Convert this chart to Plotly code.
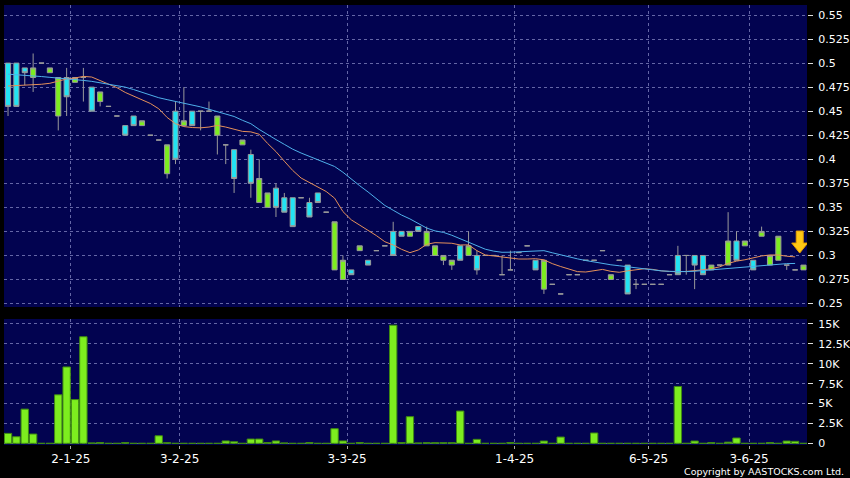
import plotly.graph_objects as go

# ---------------- data ----------------
opens = [0.50, 0.50, 0.495, 0.485, 0.50, 0.49, 0.445, 0.485, 0.48, 0.485,
         0.475, 0.46, 0.455, 0.445, 0.435, 0.445, 0.435, 0.425, 0.42, 0.385,
         0.45, 0.435, 0.45, 0.45, 0.45, 0.425, 0.415, 0.41, 0.415, 0.405,
         0.355, 0.35, 0.37, 0.36, 0.36, 0.36, 0.355, 0.365, 0.345, 0.285,
         0.275, 0.285, 0.305, 0.295, 0.305, 0.31, 0.325, 0.325, 0.32, 0.33,
         0.31, 0.30, 0.295, 0.29, 0.31, 0.30, 0.30, 0.30, 0.30, 0.28,
         0.285, 0.303, 0.31, 0.295, 0.265, 0.27, 0.26, 0.28, 0.28, 0.295,
         0.295, 0.305, 0.275, 0.295, 0.29, 0.27, 0.27, 0.27, 0.27, 0.28,
         0.30, 0.30, 0.30, 0.30, 0.285, 0.29, 0.29, 0.315, 0.31, 0.295,
         0.32, 0.29, 0.295, 0.29, 0.285, 0.285]
highs = [0.50, 0.50, 0.495, 0.51, 0.50, 0.495, 0.485, 0.495, 0.485, 0.495,
         0.475, 0.47, 0.455, 0.445, 0.435, 0.445, 0.44, 0.425, 0.42, 0.415,
         0.46, 0.475, 0.45, 0.45, 0.46, 0.445, 0.415, 0.41, 0.42, 0.41,
         0.40, 0.365, 0.375, 0.365, 0.36, 0.36, 0.36, 0.365, 0.345, 0.335,
         0.30, 0.285, 0.31, 0.295, 0.305, 0.31, 0.335, 0.325, 0.325, 0.33,
         0.33, 0.31, 0.30, 0.295, 0.31, 0.325, 0.305, 0.30, 0.30, 0.30,
         0.305, 0.303, 0.31, 0.295, 0.295, 0.27, 0.26, 0.28, 0.28, 0.295,
         0.295, 0.305, 0.28, 0.295, 0.29, 0.275, 0.27, 0.27, 0.27, 0.28,
         0.31, 0.30, 0.30, 0.30, 0.29, 0.29, 0.345, 0.325, 0.315, 0.295,
         0.33, 0.30, 0.32, 0.29, 0.285, 0.29]
lows = [0.445, 0.455, 0.477, 0.47, 0.50, 0.49, 0.43, 0.445, 0.48, 0.46,
        0.45, 0.455, 0.455, 0.445, 0.425, 0.435, 0.435, 0.425, 0.42, 0.38,
        0.395, 0.435, 0.435, 0.43, 0.45, 0.405, 0.395, 0.365, 0.415, 0.36,
        0.355, 0.35, 0.34, 0.345, 0.33, 0.36, 0.34, 0.355, 0.345, 0.285,
        0.275, 0.28, 0.305, 0.29, 0.305, 0.31, 0.30, 0.32, 0.32, 0.325,
        0.31, 0.30, 0.29, 0.285, 0.295, 0.30, 0.28, 0.30, 0.30, 0.28,
        0.285, 0.303, 0.31, 0.285, 0.26, 0.27, 0.26, 0.28, 0.28, 0.295,
        0.295, 0.305, 0.275, 0.295, 0.26, 0.265, 0.27, 0.27, 0.27, 0.28,
        0.28, 0.28, 0.265, 0.28, 0.285, 0.29, 0.29, 0.295, 0.31, 0.285,
        0.32, 0.29, 0.295, 0.285, 0.285, 0.285]
closes = [0.455, 0.455, 0.49, 0.495, 0.50, 0.495, 0.485, 0.465, 0.485, 0.485,
          0.45, 0.47, 0.455, 0.445, 0.425, 0.435, 0.44, 0.425, 0.42, 0.415,
          0.40, 0.44, 0.435, 0.45, 0.45, 0.445, 0.415, 0.38, 0.42, 0.375,
          0.38, 0.365, 0.35, 0.345, 0.33, 0.36, 0.34, 0.355, 0.345, 0.335,
          0.295, 0.28, 0.31, 0.29, 0.305, 0.31, 0.30, 0.32, 0.325, 0.325,
          0.325, 0.31, 0.30, 0.295, 0.295, 0.31, 0.285, 0.30, 0.30, 0.28,
          0.285, 0.303, 0.31, 0.285, 0.295, 0.27, 0.26, 0.28, 0.28, 0.295,
          0.295, 0.305, 0.28, 0.295, 0.26, 0.27, 0.27, 0.27, 0.27, 0.28,
          0.28, 0.30, 0.29, 0.28, 0.29, 0.29, 0.315, 0.295, 0.315, 0.285,
          0.325, 0.30, 0.32, 0.29, 0.285, 0.29]

ma_short = [0.4762, 0.4765, 0.477, 0.4775, 0.478, 0.479, 0.481, 0.4835, 0.4845, 0.4862,
            0.4855, 0.482, 0.4785, 0.4745, 0.4695, 0.4658, 0.4625, 0.458, 0.4525, 0.4435,
            0.437, 0.434, 0.433, 0.4327, 0.4335, 0.4352, 0.4335, 0.431, 0.429, 0.4285,
            0.426, 0.4165, 0.408, 0.398, 0.3884, 0.3805, 0.3756, 0.371, 0.3665, 0.3596,
            0.3456, 0.337, 0.3318, 0.3265, 0.3206, 0.3143, 0.3109, 0.3064, 0.3029, 0.3057,
            0.3116, 0.3133, 0.3133, 0.3127, 0.3109, 0.311, 0.305, 0.3005, 0.2995, 0.2985,
            0.2968, 0.2963, 0.2963, 0.2966, 0.2955, 0.2915, 0.2885, 0.2858, 0.2832, 0.2828,
            0.2845, 0.2855, 0.2835, 0.2825, 0.284, 0.2855, 0.2862, 0.2855, 0.284, 0.2834,
            0.283, 0.2834, 0.284, 0.2851, 0.2862, 0.2882, 0.2917, 0.2941, 0.2955, 0.2975,
            0.2995, 0.3005, 0.3005, 0.2992, 0.2985, None]
ma_long = [0.4885, 0.488, 0.4875, 0.4866, 0.486, 0.4852, 0.4845, 0.484, 0.483, 0.482,
           0.481, 0.4795, 0.478, 0.4765, 0.475, 0.4725, 0.4695, 0.4665, 0.464, 0.462,
           0.4603, 0.4587, 0.4567, 0.4545, 0.452, 0.4495, 0.447, 0.4445, 0.4405, 0.437,
           0.431, 0.4255, 0.4205, 0.4155, 0.4105, 0.4065, 0.403, 0.3995, 0.396, 0.3925,
           0.3865, 0.379, 0.3725, 0.366, 0.359, 0.352, 0.347, 0.342, 0.338, 0.3335,
           0.3285, 0.3255, 0.324, 0.321, 0.3175, 0.314, 0.3105, 0.3065, 0.3045, 0.3033,
           0.3034, 0.3038, 0.3045, 0.3052, 0.305, 0.3028, 0.3005, 0.2983, 0.2965, 0.2947,
           0.293, 0.2915, 0.2903, 0.2893, 0.2882, 0.287, 0.286, 0.285, 0.284, 0.2835,
           0.283, 0.2832, 0.2836, 0.2843, 0.2853, 0.2862, 0.287, 0.2878, 0.2885, 0.289,
           0.2898, 0.2905, 0.291, 0.2915, 0.2917, None]

volume_k = [1.25, 0.83, 4.3, 1.17, 0, 0, 6.1, 9.6, 5.5, 13.4,
            0.05, 0.1, 0, 0, 0.1, 0, 0, 0, 0.95, 0.08,
            0, 0, 0, 0, 0, 0, 0.3, 0.2, 0, 0.54,
            0.54, 0.1, 0.3, 0.05, 0, 0, 0.1, 0, 0, 1.84,
            0.3, 0, 0.1, 0, 0, 0, 14.85, 0.1, 3.35, 0.05,
            0.08, 0.08, 0.08, 0.08, 4.06, 0, 0.5, 0, 0, 0,
            0.1, 0, 0, 0, 0.29, 0, 0.79, 0, 0, 0,
            1.3, 0, 0, 0, 0, 0, 0, 0, 0, 0,
            7.15, 0, 0.29, 0, 0.1, 0, 0.15, 0.67, 0, 0,
            0, 0.1, 0, 0.29, 0.25, 0]

date_tick_pos = [7.5, 20.5, 40.5, 60.5, 76.5, 88.5]
date_tick_labels = ["2-1-25", "3-2-25", "3-3-25", "1-4-25", "6-5-25", "3-6-25"]

price_ticks = [0.25, 0.275, 0.3, 0.325, 0.35, 0.375, 0.4, 0.425, 0.45, 0.475, 0.5, 0.525, 0.55]
price_tick_labels = ["0.25", "0.275", "0.3", "0.325", "0.35", "0.375", "0.4", "0.425",
                     "0.45", "0.475", "0.5", "0.525", "0.55"]
vol_ticks = [0, 2.5, 5, 7.5, 10, 12.5, 15]
vol_tick_labels = ["0", "2.5K", "5K", "7.5K", "10K", "12.5K", "15K"]

signal_x = 94.55      # position of the yellow signal arrow (candle index)
signal_price = 0.3025  # price level where the arrow tip points

# ---------------- styling ----------------
BG = "#020350"
GRID = "#6466a6"
GREEN = "#7ded1f"
CYAN = "#22e3f3"
WICK = "#9a9a9a"
FONT = "DejaVu Sans"

idx = list(range(len(closes)))

fig = go.Figure()

fig.add_trace(go.Candlestick(
    x=idx, open=opens, high=highs, low=lows, close=closes,
    xaxis="x", yaxis="y",
    increasing=dict(fillcolor=GREEN, line=dict(color=WICK, width=1)),
    decreasing=dict(fillcolor=CYAN, line=dict(color=WICK, width=1)),
    whiskerwidth=0, hoverinfo="skip", showlegend=False,
))
fig.add_trace(go.Scatter(x=idx, y=ma_short, mode="lines", xaxis="x", yaxis="y",
                         line=dict(color="#e5905a", width=1), hoverinfo="skip",
                         showlegend=False))
fig.add_trace(go.Scatter(x=idx, y=ma_long, mode="lines", xaxis="x", yaxis="y",
                         line=dict(color="#4fb0ea", width=1), hoverinfo="skip",
                         showlegend=False))
fig.add_trace(go.Bar(x=idx, y=volume_k, xaxis="x2", yaxis="y2",
                     marker=dict(color=GREEN, line=dict(color="#3f8a12", width=1)),
                     hoverinfo="skip", showlegend=False))

xr = [-0.48, len(closes) - 1 + 0.42]
common_x = dict(range=xr, showgrid=True, gridcolor=GRID, griddash="3px,3px", gridwidth=1,
                zeroline=False, showline=False, tickvals=date_tick_pos, automargin=False)
y_common = dict(side="right", showgrid=True, gridcolor=GRID, griddash="3px,3px",
                zeroline=False, ticks="outside", ticklen=5, tickcolor="#dddddd",
                ticklabelstandoff=3, automargin=False,
                tickfont=dict(family=FONT, size=11, color="white"))

fig.update_layout(
    width=850, height=478,
    paper_bgcolor="black", plot_bgcolor=BG,
    margin=dict(l=4, r=43, t=5, b=33),
    showlegend=False,
    boxgap=0.13,
    bargap=0.12,
    xaxis=dict(**common_x, anchor="y", showticklabels=False, ticks="",
               rangeslider=dict(visible=False)),
    xaxis2=dict(**common_x, anchor="y2", matches="x", ticktext=date_tick_labels,
                ticks="outside", ticklen=3, tickcolor="#aaaaaa",
                tickfont=dict(family=FONT, size=12, color="white")),
    yaxis=dict(**y_common, domain=[0.3136, 1], range=[0.2464, 0.5604],
               tickvals=price_ticks, ticktext=price_tick_labels),
    yaxis2=dict(**y_common, domain=[0, 0.2864], range=[-0.21, 15.63],
                tickvals=vol_ticks, ticktext=vol_tick_labels),
)

# yellow signal arrow (pixel-sized path anchored at the signal point)
fig.add_shape(type="path", xref="x", yref="y",
              xsizemode="pixel", ysizemode="pixel",
              xanchor=signal_x, yanchor=signal_price,
              path="M 0 0 L -8 10 L -3.5 10 L -3.5 22 L 3.5 22 L 3.5 10 L 8 10 Z",
              fillcolor="#ffc814", line=dict(color="#e8a000", width=1))

fig.add_annotation(text="Copyright by AASTOCKS.com Ltd.", xref="paper", yref="paper",
                   x=1.0485, y=-0.061, xanchor="right", yanchor="middle",
                   showarrow=False, font=dict(family=FONT, size=9.5, color="white"))

fig.write_html("out.html", config={"displayModeBar": False})

# remove the browser's default page margin so the figure sits at the window origin
with open("out.html", "r", encoding="utf-8") as f:
    html = f.read()
html = html.replace("<head>", "<head><style>html,body{margin:0;padding:0;background:#000;}</style>", 1)
with open("out.html", "w", encoding="utf-8") as f:
    f.write(html)
